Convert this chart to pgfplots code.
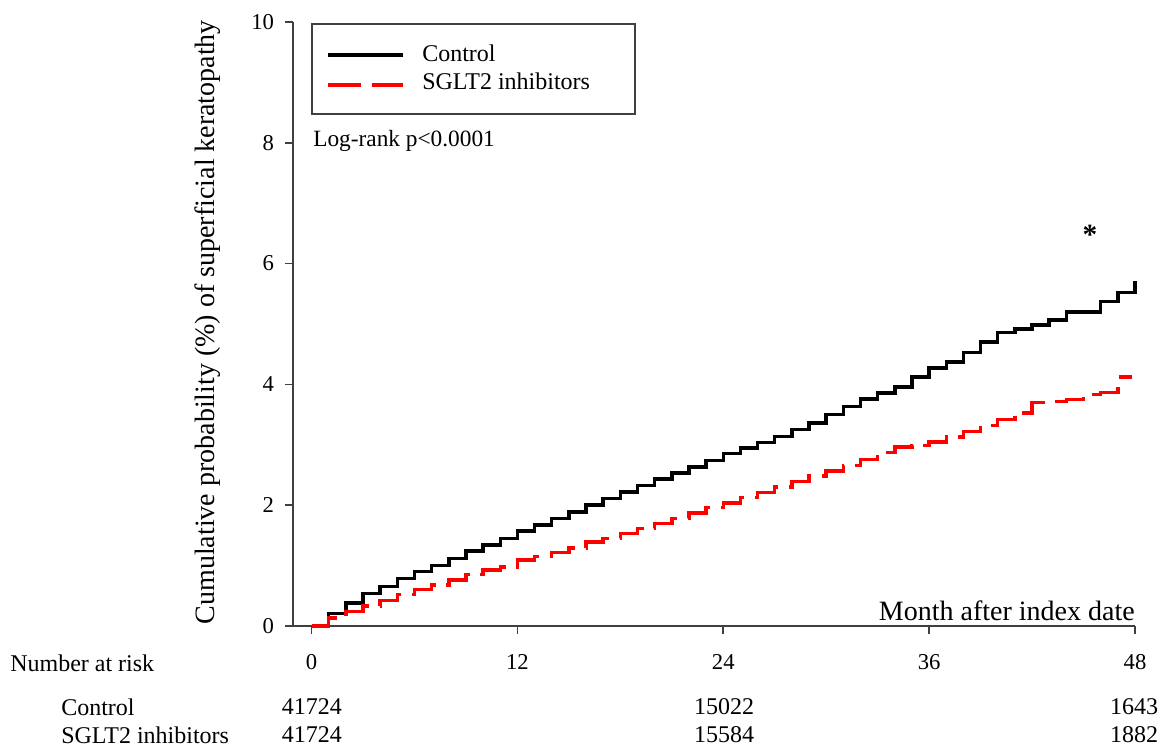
\documentclass[border=0pt]{standalone}
\usepackage{pgfplots}
\pgfplotsset{compat=1.18}
\usepackage{fontspec}
\setmainfont{Liberation Serif}

% Kaplan-Meier style cumulative incidence (month, %)
\pgfplotstableread{
m    p
0    0
1    0.21
2    0.38
3    0.54
4    0.65
5    0.79
6    0.90
7    1.00
8    1.12
9    1.24
10   1.34
11   1.45
12   1.57
13   1.67
14   1.78
15   1.89
16   2.00
17   2.11
18   2.22
19   2.33
20   2.43
21   2.53
22   2.63
23   2.74
24   2.86
25   2.95
26   3.04
27   3.14
28   3.25
29   3.36
30   3.50
31   3.63
32   3.76
33   3.86
34   3.96
35   4.12
36   4.27
37   4.37
38   4.53
39   4.70
40   4.86
41   4.92
42   4.98
43   5.07
44   5.20
45   5.20
46   5.37
47   5.52
48   5.71
}\control
\pgfplotstableread{
m    p
0    0
1    0.13
2    0.24
3    0.33
4    0.42
5    0.52
6    0.60
7    0.68
8    0.76
9    0.85
10   0.93
11   0.98
12   1.09
13   1.15
14   1.22
15   1.29
16   1.39
17   1.45
18   1.53
19   1.61
20   1.70
21   1.78
22   1.87
23   1.96
24   2.04
25   2.13
26   2.21
27   2.30
28   2.39
29   2.48
30   2.57
31   2.66
32   2.76
33   2.87
34   2.96
35   2.99
36   3.05
37   3.13
38   3.22
39   3.32
40   3.42
41   3.53
42   3.70
43   3.72
44   3.75
45   3.83
46   3.87
47   4.12
47.8 4.12
}\sglt

\definecolor{axgray}{gray}{0.25}

\begin{document}
\begin{tikzpicture}
% page frame in reference pixels (axis corner at px 293,626)
\begin{scope}[x=0.75pt,y=-0.75pt,shift={(-293,-626)}]
  \useasboundingbox (0,0) rectangle (1161,747);
\end{scope}

\begin{axis}[
    scale only axis,
    width=631.5pt, height=453pt,
    xmin=-1.08, xmax=48,
    ymin=0, ymax=10,
    axis x line*=bottom,
    axis y line*=left,
    axis line style={line width=1.5pt, axgray},
    tick align=outside,
    major tick length=6pt,
    tick style={line width=1.3pt, axgray},
    xtick={0,12,24,36,48},
    ytick={0,2,4,6,8,10},
    /pgf/number format/assume math mode=true,
    ticklabel style={font=\fontsize{17}{20}\selectfont, inner sep=0pt},
    xticklabel shift=15pt,
    yticklabel shift=8pt,
    xlabel={Month after index date},
    xlabel style={at={(rel axis cs:1,0)}, anchor=base east, yshift=4.5pt,
        inner sep=0pt, font=\fontsize{21}{24}\selectfont},
    ylabel={Cumulative probability (\%) of superficial keratopathy},
    ylabel style={at={(rel axis cs:-0.101,0.503)}, anchor=center,
        font=\fontsize{21}{24}\selectfont},
    clip=false,
]
\addplot[const plot, black, line width=2.6pt] table[x=m, y=p] {\control};
\addplot[const plot, red, line width=2.6pt, dash pattern=on 25pt off 8pt] table[x=m, y=p] {\sglt};
\end{axis}

\begin{scope}[x=0.75pt,y=-0.75pt,shift={(-293,-626)}]
  % legend
  \draw[axgray, line width=1.5pt] (312,24) rectangle (635,114);
  \draw[black, line width=2.6pt] (328,55) -- (403,55);
  \draw[red, line width=2.6pt, dash pattern=on 25pt off 8pt] (328,85) -- (403,85);
  \node[anchor=base west, inner sep=0pt, font=\fontsize{18}{21}\selectfont] at (422,62) {Control};
  \node[anchor=base west, inner sep=0pt, font=\fontsize{18}{21}\selectfont] at (422,90) {SGLT2 inhibitors};
  \node[anchor=base west, inner sep=0pt, font=\fontsize{17.5}{21}\selectfont] at (313,147) {Log-rank p<0.0001};
  \node[anchor=base, inner sep=0pt, font=\bfseries\fontsize{22}{24}\selectfont] at (1090,245) {*};
  % number at risk
  \begin{scope}[every node/.style={inner sep=0pt, font=\fontsize{18}{21}\selectfont}]
    \node[anchor=west] at (10,663) {Number at risk};
    \node[anchor=west] at (61,707) {Control};
    \node[anchor=west] at (61,735) {SGLT2 inhibitors};
    \node at (312,707) {41724};
    \node at (312,735) {41724};
    \node at (724,707) {15022};
    \node at (724,735) {15584};
    \node at (1134,707) {1643};
    \node at (1134,735) {1882};
  \end{scope}
\end{scope}
\end{tikzpicture}
\end{document}
